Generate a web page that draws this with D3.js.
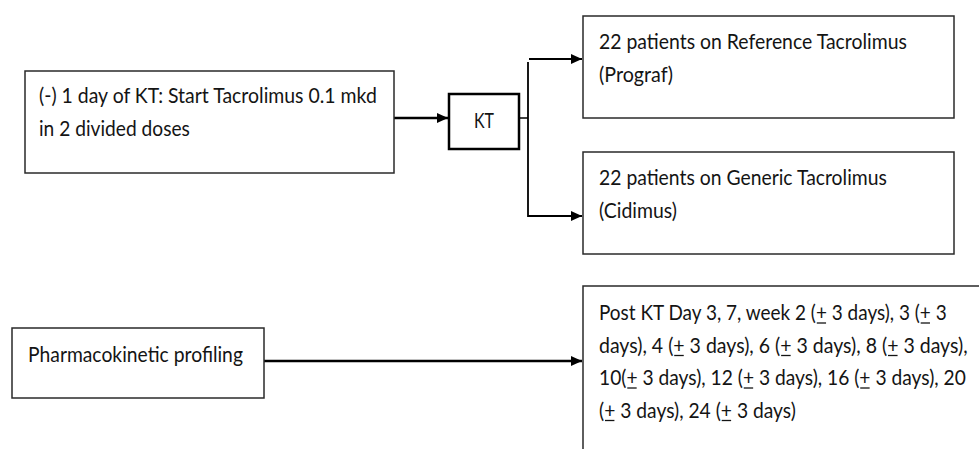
<!DOCTYPE html>
<meta charset="utf-8">
<head>
  <title>Study flow</title>
  <script src="https://cdn.jsdelivr.net/npm/d3@7/dist/d3.min.js"></script>
  <style>
    body {margin: 0; background: #fff;}
    svg text {font-family: Lato, "Open Sans", sans-serif; fill: #141414;}
  </style>
</head>
<body>
<div id="flow"></div>
<script>
// box labels (one entry per line), "±" is drawn as an underlined +
var startLines = ["(-) 1 day of KT: Start Tacrolimus 0.1 mkd", "in 2 divided doses"];
var ktLines = ["KT"];
var referenceLines = ["22 patients on Reference Tacrolimus", "(Prograf)"];
var genericLines = ["22 patients on Generic Tacrolimus", "(Cidimus)"];
var pkLines = ["Pharmacokinetic profiling"];
var scheduleLines = [
  "Post KT Day 3, 7, week 2 (± 3 days), 3 (± 3",
  "days), 4 (± 3 days), 6 (± 3 days), 8 (± 3 days),",
  "10(± 3 days), 12 (± 3 days), 16 (± 3 days), 20",
  "(± 3 days), 24 (± 3 days)"
];

// layout, kept apart from the labels
var W = 979, H = 449;
var boxes = [
  {lines: startLines,     x0: 25,  y0: 71,  x1: 394, y1: 173, sw: 1.5, tx: 39,  ty: 103, widths: [338, 151]},
  {lines: ktLines,        x0: 449, y0: 94,  x1: 519, y1: 149, sw: 2.5, tx: 474, ty: 128, widths: [20]},
  {lines: referenceLines, x0: 583, y0: 16,  x1: 954, y1: 118, sw: 1.5, tx: 599, ty: 49,  widths: [308, 74]},
  {lines: genericLines,   x0: 583, y0: 152, x1: 954, y1: 254, sw: 1.5, tx: 599, ty: 185, widths: [288, 78]},
  {lines: pkLines,        x0: 12,  y0: 328, x1: 264, y1: 398, sw: 1.5, tx: 28,  ty: 362, widths: [215]},
  {lines: scheduleLines,  x0: 583, y0: 286, x1: 985, y1: 470, sw: 1.5, tx: 599, ty: 320, widths: [348, 369, 367, 197]}
];
var lineGap = 32.5;

var svg = d3.select("#flow").append("svg")
    .attr("width", W)
    .attr("height", H);

svg.append("defs").append("marker")
    .attr("id", "head")
    .attr("markerUnits", "userSpaceOnUse")
    .attr("viewBox", "0 0 11 10")
    .attr("refX", 11).attr("refY", 5)
    .attr("markerWidth", 11).attr("markerHeight", 10)
    .attr("orient", "auto")
  .append("path")
    .attr("d", "M0,0L11,5L0,10Z")
    .attr("fill", "#000");

// connectors
var connectors = [
  {pts: [[394, 118], [448, 118]], sw: 2.5, arrow: true},
  {pts: [[519, 118], [528, 118]], sw: 1.5, arrow: false},
  {pts: [[528, 62], [528, 216], [582, 216]], sw: 1.8, arrow: true},
  {pts: [[529, 59], [582, 59]], sw: 2, arrow: true},
  {pts: [[264, 361], [582, 361]], sw: 2.5, arrow: true}
];
var line = d3.line();

svg.selectAll(".conn")
  .data(connectors)
  .enter()
  .append("path")
    .attr("class", "conn")
    .attr("d", function(d){ return line(d.pts); })
    .attr("fill", "none")
    .attr("stroke", "#000")
    .attr("stroke-width", function(d){ return d.sw; })
    .attr("marker-end", function(d){ return d.arrow ? "url(#head)" : null; });

// boxes
var g = svg.selectAll(".box")
  .data(boxes)
  .enter()
  .append("g")
    .attr("class", "box");

g.append("rect")
    .attr("x", function(d){ return d.x0; })
    .attr("y", function(d){ return d.y0; })
    .attr("width", function(d){ return d.x1 - d.x0; })
    .attr("height", function(d){ return d.y1 - d.y0; })
    .attr("fill", "#fff")
    .attr("stroke", function(d){ return d.sw > 2 ? "#000" : "#2a2a2a"; })
    .attr("stroke-width", function(d){ return d.sw; });

g.each(function(b){
  var box = d3.select(this);
  b.lines.forEach(function(txt, i){
    var y = b.ty + i * lineGap;
    var row = box.append("g");
    var t = row.append("text")
        .attr("x", 0)
        .attr("y", 0)
        .attr("font-size", 22)
        .text(txt.replace(/±/g, "+"));
    // squeeze each line horizontally to the width it has in the picture
    var sx = b.widths[i] / t.node().getComputedTextLength();
    row.attr("transform", "translate(" + b.tx + "," + y + ") scale(" + sx + ",1)");
    // underline each plus that stands for ±
    for (var k = 0; k < txt.length; k++) {
      if (txt[k] !== "±") continue;
      var ext = t.node().getExtentOfChar(k);
      row.append("line")
          .attr("x1", ext.x + 1).attr("x2", ext.x + ext.width - 1)
          .attr("y1", 3).attr("y2", 3)
          .attr("stroke", "#141414")
          .attr("stroke-width", 1.3);
    }
  });
});
</script>
</body>
</html>
